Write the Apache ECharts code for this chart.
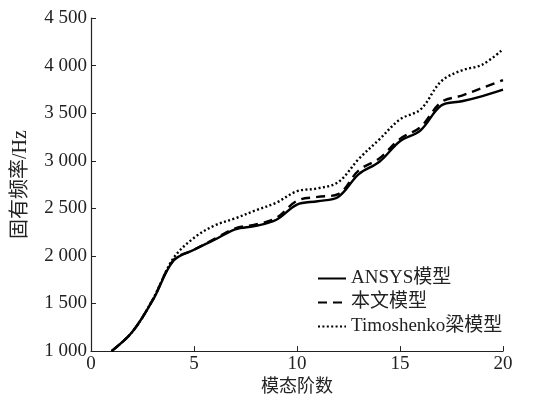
<!DOCTYPE html>
<html>
<head>
<meta charset="utf-8">
<script src="https://cdn.jsdelivr.net/npm/echarts@6/dist/echarts.min.js"></script>
<style>
  html, body { margin: 0; padding: 0; background: #fff; }
  #chart { width: 540px; height: 401px; }
</style>
</head>
<body>
<div id="chart"></div>
<script>
// 模态阶数 1..20
const modes = [1, 2, 3, 4, 5, 6, 7, 8, 9, 10, 11, 12, 13, 14, 15, 16, 17, 18, 19, 20]
const ansys = [1000, 1200, 1535, 1950, 2065, 2170, 2280, 2315, 2380, 2540, 2575, 2620, 2860, 2990, 3205, 3320, 3580, 3625, 3680, 3748]
const paper = [1000, 1200, 1540, 1955, 2065, 2180, 2290, 2330, 2400, 2580, 2620, 2650, 2900, 3025, 3230, 3355, 3615, 3685, 3765, 3848]
const timo = [1000, 1200, 1545, 1975, 2190, 2320, 2395, 2480, 2560, 2680, 2710, 2775, 3020, 3225, 3435, 3540, 3835, 3950, 4010, 4172]
const seriesNames = ['ANSYS模型', '本文模型', 'Timoshenko梁模型']

const FONT = '"Liberation Serif", "Noto Sans CJK SC", serif'

const fmtThousands = v => {
  const s = String(v)
  return s.length > 3 ? s.slice(0, s.length - 3) + ' ' + s.slice(-3) : s
}

const pair = arr => arr.map((v, i) => [modes[i], v])

const chart = echarts.init(document.getElementById('chart'))

chart.setOption({
  backgroundColor: '#ffffff',
  animation: false,
  color: ['#000', '#000', '#000'],
  grid: { left: 91, right: 37, top: 18, bottom: 47 },
  legend: {
    orient: 'vertical',
    left: 312,
    top: 264,
    itemWidth: 28,
    itemHeight: 14,
    itemGap: 5,
    itemStyle: { opacity: 0 },
    textStyle: { fontFamily: FONT, fontSize: 19, color: '#222' },
    data: seriesNames
  },
  xAxis: {
    type: 'value',
    min: 0,
    max: 20,
    interval: 5,
    name: '模态阶数',
    nameLocation: 'middle',
    nameGap: 24,
    nameTextStyle: { fontFamily: FONT, fontSize: 18, color: '#222' },
    axisLine: { lineStyle: { color: '#222', width: 1.2 } },
    axisTick: { inside: true, length: 5, lineStyle: { color: '#222' } },
    axisLabel: { fontFamily: FONT, fontSize: 19, color: '#222', margin: 3 },
    splitLine: { show: false }
  },
  yAxis: {
    type: 'value',
    min: 1000,
    max: 4500,
    interval: 500,
    name: '固有频率/Hz',
    nameLocation: 'middle',
    nameGap: 60,
    nameTextStyle: { fontFamily: FONT, fontSize: 20, color: '#222' },
    axisLine: { show: true, lineStyle: { color: '#222', width: 1.2 } },
    axisTick: { show: true, inside: true, length: 5, lineStyle: { color: '#222' } },
    axisLabel: { fontFamily: FONT, fontSize: 19, color: '#222', margin: 4, formatter: fmtThousands },
    splitLine: { show: false }
  },
  series: [
    {
      name: seriesNames[0],
      type: 'line',
      data: pair(ansys),
      smooth: 0.35,
      symbol: 'none',
      itemStyle: { color: '#000' },
      lineStyle: { color: '#000', width: 2.4, type: 'solid' }
    },
    {
      name: seriesNames[1],
      type: 'line',
      data: pair(paper),
      smooth: 0.35,
      symbol: 'none',
      itemStyle: { color: '#000' },
      lineStyle: { color: '#000', width: 2.4, type: [9, 6] }
    },
    {
      name: seriesNames[2],
      type: 'line',
      data: pair(timo),
      smooth: 0.35,
      symbol: 'none',
      itemStyle: { color: '#000' },
      lineStyle: { color: '#000', width: 2.4, type: [2, 2.4] }
    }
  ]
})
</script>
</body>
</html>
